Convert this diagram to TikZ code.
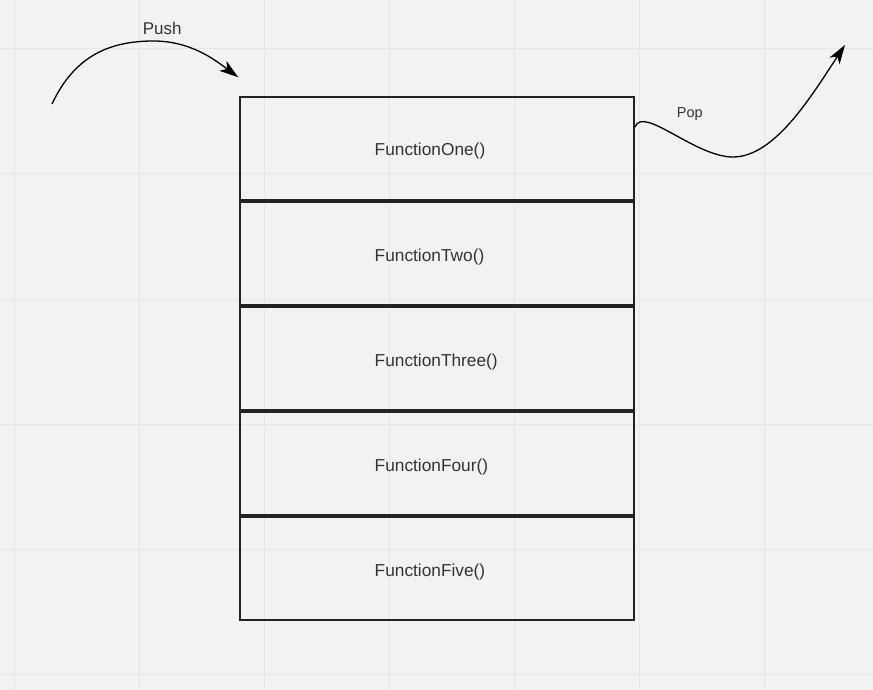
\documentclass[tikz,border=0pt]{standalone}
\usepackage{fontspec}
\setmainfont{Liberation Sans}
\usetikzlibrary{arrows.meta}
\definecolor{bgc}{RGB}{242,242,242}
\definecolor{gridc}{RGB}{231,231,231}
\definecolor{boxc}{RGB}{34,34,34}
\definecolor{txtc}{RGB}{51,51,51}
\begin{document}
\begin{tikzpicture}[x=1pt,y=-1pt,
  framebox/.style={draw=boxc, line width=2.2pt, rectangle, inner sep=0pt,
    minimum width=394pt, minimum height=103pt},
  functext/.style={anchor=base west, inner sep=0pt, text=txtc,
    font=\fontsize{17.3}{20}\selectfont},
  curvearrow/.style={draw=black, line width=1.3pt,
    -{Stealth[length=19pt,width=12pt,inset=5pt]}},
  labeltext/.style={anchor=base west, inner sep=0pt, text=txtc}]
\useasboundingbox (0,0) rectangle (873,690);
\fill[bgc] (0,0) rectangle (873,690);
\foreach \gx in {14,139,264,389,514,639,764}
  \draw[gridc, line width=1pt] (\gx,0) -- (\gx,690);
\foreach \gy in {49,174,299,424,549,674}
  \draw[gridc, line width=1pt] (0,\gy) -- (873,\gy);

\node[framebox] (b1) at (437,148.5) {};
\node[framebox] (b2) at (437,253.5) {};
\node[framebox] (b3) at (437,358.5) {};
\node[framebox] (b4) at (437,463.5) {};
\node[framebox] (b5) at (437,568.5) {};

\node[functext] (t1) at (374.5,156) {FunctionOne()};
\node[functext] (t2) at (374.5,261) {FunctionTwo()};
\node[functext] (t3) at (374.5,366) {FunctionThree()};
\node[functext] (t4) at (374.5,471) {FunctionFour()};
\node[functext] (t5) at (374.5,576) {FunctionFive()};

\node[labeltext, font=\fontsize{17}{20}\selectfont] (push) at (142.7,35) {Push};
\node[labeltext, font=\fontsize{14.5}{17}\selectfont] (pop) at (676.7,117.3) {Pop};

\coordinate (pushstart) at (52,104);
\coordinate (pushmid) at (150,41);
\coordinate (pushend) at (238.3,77.3);
\coordinate (popstart) at (635,127);
\coordinate (popmid) at (733,157);
\coordinate (popend) at (845,45);

\draw[curvearrow] (pushstart) .. controls (75,55) and (110,42) .. (pushmid)
  .. controls (190,40) and (215,60) .. (pushend);
\draw[curvearrow] (popstart) .. controls (643,105) and (695,157) .. (popmid)
  .. controls (775,157) and (812,95) .. (popend);
\end{tikzpicture}
\end{document}
